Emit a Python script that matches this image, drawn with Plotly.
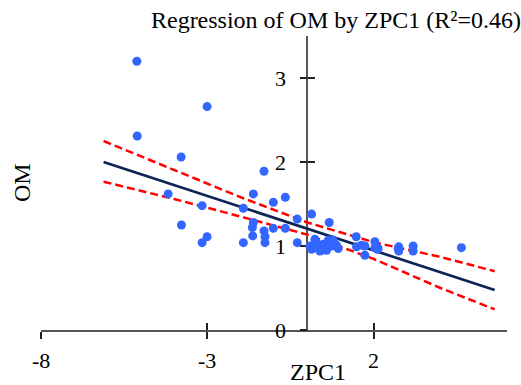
import plotly.graph_objects as go

# ---- data ----
zpc1 = [-5.12, -3.01, -5.11, -3.79, -1.30, -4.18, -1.62, -0.66, -1.02, -3.16,
        -1.92, 0.13, -0.30, 0.66, -3.78, -1.62, -1.65, -1.02, -0.66, -1.30,
        -1.27, -1.64, -3.01, -3.16, -1.92, -1.27, -0.30, 1.47, 0.23, 0.18,
        0.13, 0.33, 0.48, 0.63, 0.78, 0.73, 0.93, 0.58, 0.38, 1.48,
        1.63, 1.73, 2.03, 2.03, 2.13, 2.73, 2.75, 2.75, 3.18, 3.18,
        4.63, 2.10, 0.88, 0.28, 0.08, 1.73, 0.43]
om = [3.20, 2.66, 2.31, 2.06, 1.89, 1.62, 1.62, 1.58, 1.52, 1.48,
      1.45, 1.38, 1.32, 1.28, 1.25, 1.28, 1.22, 1.21, 1.21, 1.18,
      1.11, 1.12, 1.11, 1.04, 1.04, 1.04, 1.04, 1.11, 1.08, 1.01,
      0.96, 0.97, 1.02, 1.07, 1.07, 1.00, 0.97, 0.95, 0.94, 0.99,
      1.01, 0.89, 1.05, 0.98, 0.97, 0.97, 0.99, 0.94, 1.00, 0.94,
      0.98, 0.96, 1.01, 1.04, 1.00, 1.00, 0.95]

fit_x = [-6.12, -4.0, -2.0, 0.0, 2.0, 4.0, 5.63]
fit_y = [2.00, 1.725, 1.465, 1.206, 0.947, 0.687, 0.476]
ci_upper = [2.25, 1.905, 1.58, 1.28, 1.045, 0.87, 0.70]
ci_lower = [1.765, 1.56, 1.35, 1.135, 0.845, 0.50, 0.246]

x_ticks = [-8, -3, 2]
y_ticks = [0, 1, 2, 3]
x_tick_labels = ["-8", "-3", "2"]
y_tick_labels = ["0", "1", "2", "3"]
x_range = [-8, 6]
y_range = [0, 3.5]

title_text = "Regression of OM by ZPC1 (R²=0.46)"
x_title = "ZPC1"
y_title = "OM"

FONT = "Liberation Serif"
AX_COLOR = "#555555"
TICK_COLOR = "#222222"
TICK_FONT = dict(family=FONT, size=22, color="#000000")
TITLE_FONT = dict(family=FONT, size=24, color="#000000")

fig = go.Figure()

fig.add_trace(go.Scatter(x=fit_x, y=ci_upper, mode="lines",
                         line=dict(color="#ff0000", width=2.5, dash="8px,4px"),
                         hoverinfo="skip", showlegend=False))
fig.add_trace(go.Scatter(x=fit_x, y=ci_lower, mode="lines",
                         line=dict(color="#ff0000", width=2.5, dash="8px,4px"),
                         hoverinfo="skip", showlegend=False))
fig.add_trace(go.Scatter(x=fit_x, y=fit_y, mode="lines",
                         line=dict(color="#0d2456", width=2.7),
                         showlegend=False))
fig.add_trace(go.Scatter(x=zpc1, y=om, mode="markers",
                         marker=dict(color="#3366ff", size=9, line=dict(width=0)),
                         showlegend=False))
# helper (empty) trace so the overlay axes carrying the inner tick halves exist
fig.add_trace(go.Scatter(x=[None], y=[None], xaxis="x2", yaxis="y2",
                         showlegend=False, hoverinfo="skip"))

y_pos = (0 - x_range[0]) / (x_range[1] - x_range[0])

annotations = [
    dict(text=y_title, textangle=-90, xref="paper", yref="paper",
         x=(22 - 41) / 466, y=0.5, xanchor="center", yanchor="middle",
         showarrow=False, font=TITLE_FONT),
    dict(text=x_title, xref="paper", yref="paper",
         x=(318 - 41) / 466, y=(330 - 372) / 294, xanchor="center", yanchor="middle",
         showarrow=False, font=TITLE_FONT),
]
# tick labels placed at the axis tick values
for v, t in zip(x_ticks, x_tick_labels):
    annotations.append(dict(text=t, x=v, y=y_range[0], xref="x", yref="y",
                            xanchor="center", yanchor="middle", yshift=-30,
                            showarrow=False, font=TICK_FONT))
for v, t in zip(y_ticks, y_tick_labels):
    annotations.append(dict(text=t, x=0, y=v, xref="x", yref="y",
                            xanchor="center", yanchor="middle", xshift=-26.5,
                            showarrow=False, font=TICK_FONT))

fig.update_layout(
    width=521, height=385,
    margin=dict(l=41, r=14, t=36, b=55),
    paper_bgcolor="white", plot_bgcolor="white",
    font=dict(family=FONT, color="#000000", size=22),
    title=dict(text=title_text, font=TITLE_FONT,
               xref="container", x=336 / 521, xanchor="center",
               yref="container", y=1 - 20 / 385, yanchor="middle"),
    xaxis=dict(range=x_range, tickvals=x_ticks, showticklabels=False,
               ticks="outside", ticklen=7, tickwidth=1.5, tickcolor=TICK_COLOR,
               showgrid=False, zeroline=False,
               showline=True, linecolor=AX_COLOR, linewidth=1.5,
               anchor="y", layer="below traces"),
    yaxis=dict(range=y_range, tickvals=y_ticks, showticklabels=False,
               ticks="outside", ticklen=7, tickwidth=1.5, tickcolor=TICK_COLOR,
               showgrid=False, zeroline=False,
               showline=True, linecolor=AX_COLOR, linewidth=1.5,
               anchor="free", position=y_pos, layer="below traces"),
    xaxis2=dict(range=x_range, tickvals=x_ticks, ticks="inside", ticklen=7,
                tickwidth=1.5, tickcolor=TICK_COLOR, showticklabels=False,
                showline=False, showgrid=False, zeroline=False,
                overlaying="x", anchor="y2", layer="below traces"),
    yaxis2=dict(range=y_range, tickvals=y_ticks, ticks="inside", ticklen=7,
                tickwidth=1.5, tickcolor=TICK_COLOR, showticklabels=False,
                showline=False, showgrid=False, zeroline=False,
                overlaying="y", anchor="free", position=y_pos, layer="below traces"),
    annotations=annotations,
)

fig.write_html("out.html")
